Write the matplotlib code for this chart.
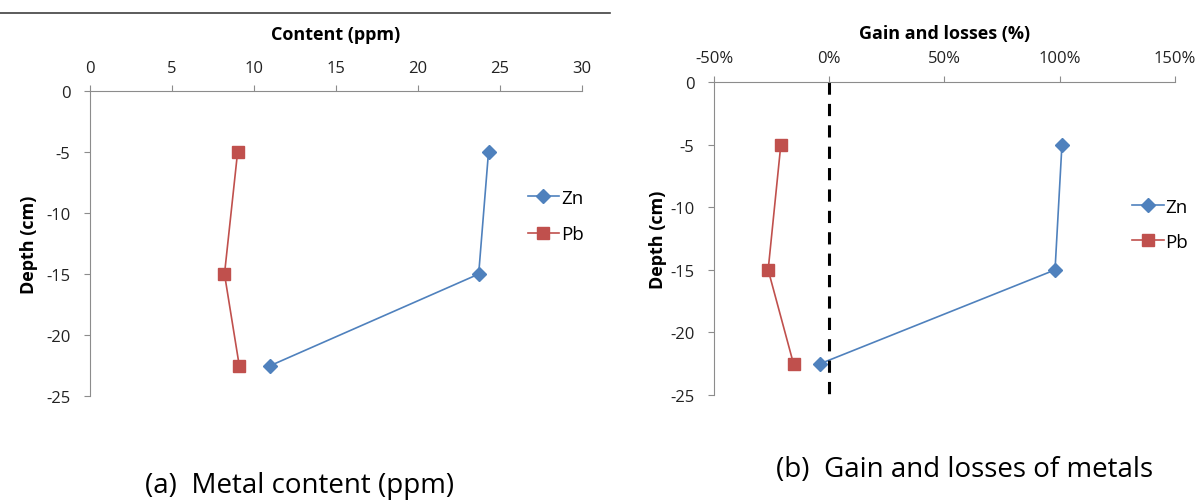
import matplotlib.pyplot as plt
from matplotlib.lines import Line2D
from matplotlib.ticker import FuncFormatter

plt.rcParams['font.family'] = ['Open Sans', 'DejaVu Sans']
plt.rcParams['axes.unicode_minus'] = False

depth = [-5, -15, -22.5]
znContent = [24.3, 23.7, 11.0]
pbContent = [9.0, 8.2, 9.1]
znChange = [101, 98, -4]
pbChange = [-21, -26.5, -15.5]

zincColor = '#4F81BD'
leadColor = '#C0504D'
axisColor = '#8C8C8C'


def styleAxes(ax, xpad, ypad):
    ax.spines['right'].set_visible(False)
    ax.spines['bottom'].set_visible(False)
    ax.spines['left'].set_color(axisColor)
    ax.spines['top'].set_color(axisColor)
    ax.xaxis.tick_top()
    ax.xaxis.set_label_position('top')
    ax.tick_params(axis='both', colors=axisColor, labelcolor='#222222',
                   labelsize=12, length=4, direction='out')
    ax.tick_params(axis='x', pad=xpad)
    ax.tick_params(axis='y', pad=ypad)
    ax.set_ylim(-25, 0)
    ax.set_yticks([0, -5, -10, -15, -20, -25])


fig = plt.figure(figsize=(11.97, 5.02), dpi=100)

# (a) metal content
ax1 = fig.add_axes([0.0752, 0.209, 0.411, 0.6076])
ax1.plot(znContent, depth, color=zincColor, marker='D', markersize=7, lw=1.2, label='Zn')
ax1.plot(pbContent, depth, color=leadColor, marker='s', markersize=8, lw=1.2, label='Pb')
ax1.set_xlim(0, 30)
ax1.set_xticks([0, 5, 10, 15, 20, 25, 30])
styleAxes(ax1, 7, 10)
ax1.set_xlabel('Content (ppm)', fontsize=13, fontweight='bold', labelpad=15)
ax1.set_ylabel('Depth (cm)', fontsize=13, fontweight='bold', labelpad=6)
ax1.legend(loc='center left', bbox_to_anchor=(0.855, 0.59), frameon=False,
           fontsize=13.5, handlelength=1.7, handletextpad=0.1, labelspacing=1.0)

# (b) gain and losses
ax2 = fig.add_axes([0.5965, 0.211, 0.385, 0.6235])
ax2.plot(znChange, depth, color=zincColor, marker='D', markersize=7, lw=1.2, label='Zn')
ax2.plot(pbChange, depth, color=leadColor, marker='s', markersize=8, lw=1.2, label='Pb')
ax2.plot([0, 0], [0, -25], color='black', lw=2.2, ls=(0, (4, 3)))
ax2.set_xlim(-50, 150)
ax2.set_xticks([-50, 0, 50, 100, 150])
ax2.xaxis.set_major_formatter(FuncFormatter(lambda v, p: f'{v:.0f}%'))
styleAxes(ax2, 7.5, 10)
ax2.set_xlabel('Gain and losses (%)', fontsize=13, fontweight='bold', labelpad=9)
ax2.set_ylabel('Depth (cm)', fontsize=13, fontweight='bold', labelpad=2)
ax2.legend(loc='center left', bbox_to_anchor=(0.87, 0.545), frameon=False,
           fontsize=13.5, handlelength=1.7, handletextpad=0.1, labelspacing=0.9)

# separator line and captions
fig.add_artist(Line2D([0, 610 / 1197], [1 - 14 / 502, 1 - 14 / 502],
                      color='#404040', lw=1.2, transform=fig.transFigure))
fig.text(300 / 1197, 1 - 486 / 502, '(a)  Metal content (ppm)', fontsize=20,
         ha='center', va='center')
fig.text(965 / 1197, 1 - 470 / 502, '(b)  Gain and losses of metals', fontsize=20,
         ha='center', va='center')

fig.savefig('out.png', dpi=100)
